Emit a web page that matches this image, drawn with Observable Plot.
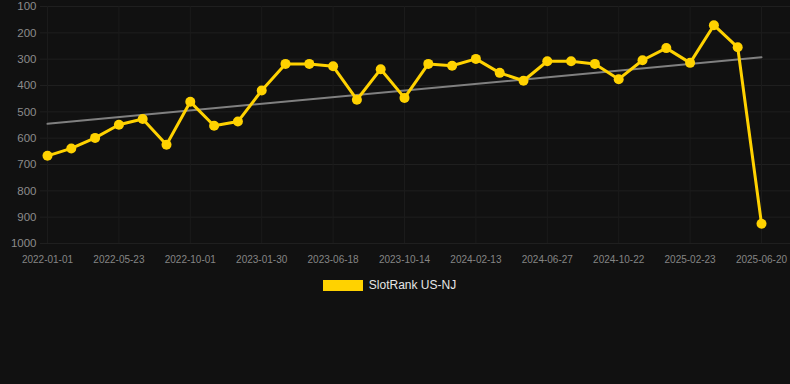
<!DOCTYPE html>
<html>
<head>
<meta charset="utf-8">
<script src="https://cdn.jsdelivr.net/npm/d3@7"></script>
<script src="https://cdn.jsdelivr.net/npm/@observablehq/plot@0.6"></script>
<style>
  html, body { margin: 0; padding: 0; background: #111111; }
  body { width: 790px; height: 384px; overflow: hidden; font-family: "Liberation Sans", Arial, sans-serif; }
  #legend { display: flex; justify-content: center; align-items: center; margin-top: 8px; padding-right: 11px; }
  #legend .sw { width: 40px; height: 11px; background: #ffd200; margin-right: 6px; }
  #legend .lab { color: #e6e6e6; font-size: 12px; }
</style>
</head>
<body>
<div id="chart"></div>
<div id="legend"><div class="sw"></div><div class="lab">SlotRank US-NJ</div></div>
<script>
const tickLabels = ["2022-01-01","2022-05-23","2022-10-01","2023-01-30","2023-06-18","2023-10-14","2024-02-13","2024-06-27","2024-10-22","2025-02-23","2025-06-20"];
const ranks = [667,639,599,549,527,625,462,553,537,419,318,318,327,454,338,447,318,325,299,352,382,308,308,318,376,304,258,314,171,255,925];
const yTicks = [100,200,300,400,500,600,700,800,900,1000];
const seriesName = "SlotRank US-NJ";

const data = ranks.map((v, i) => ({i, v}));
const xTicks = tickLabels.map((_, k) => k * 3);

const plot = Plot.plot({
  width: 790,
  height: 270,
  marginTop: 6,
  marginBottom: 27,
  marginLeft: 40,
  marginRight: 0,
  style: {background: "#111111", fontFamily: "'Liberation Sans', Arial, sans-serif"},
  x: {domain: [0, ranks.length - 1], insetLeft: 7, insetRight: 29, label: null},
  y: {domain: [100, 1000], reverse: true, label: null},
  marks: [
    Plot.gridY(yTicks, {stroke: "#1f1f1f", strokeOpacity: 1, strokeWidth: 1}),
    Plot.gridX(xTicks, {stroke: "#1b1b1b", strokeOpacity: 1, strokeWidth: 1}),
    Plot.axisY(yTicks, {tickSize: 0, tickPadding: 4, fontSize: 11.5, fill: "#8c8c8c", label: null, tickFormat: d => String(d)}),
    Plot.axisX(xTicks, {tickSize: 0, tickPadding: 12, fontSize: 10, fill: "#858585", label: null, tickFormat: d => tickLabels[d / 3]}),
    Plot.linearRegressionY(data, {x: "i", y: "v", ci: 0, stroke: "#808080", strokeWidth: 2}),
    Plot.line(data, {x: "i", y: "v", stroke: "#ffd200", strokeWidth: 3, curve: "linear"}),
    Plot.dot(data, {x: "i", y: "v", r: 5, fill: "#ffd200", stroke: "none"})
  ]
});
document.getElementById("chart").appendChild(plot);
</script>
</body>
</html>
